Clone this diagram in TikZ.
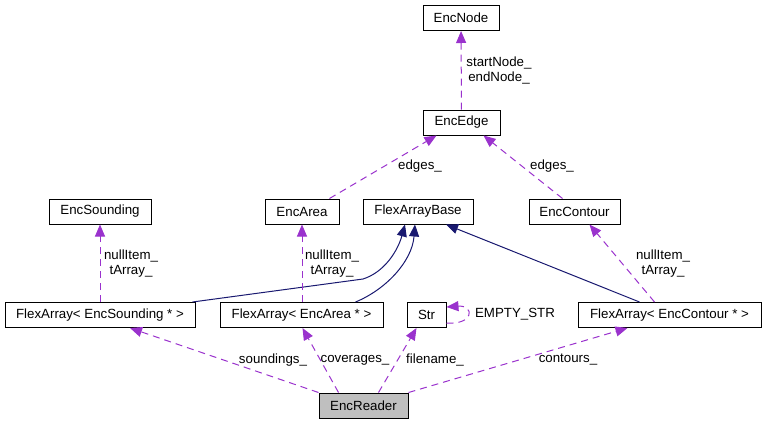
\documentclass[tikz,border=0pt]{standalone}
\usepackage{fontspec}
\setmainfont{Liberation Sans}
\usepackage{tikz}
\usetikzlibrary{arrows.meta}
\usetikzlibrary{positioning}

\definecolor{usecol}{HTML}{9A32CD}
\definecolor{inhcol}{HTML}{191970}
\definecolor{readergray}{HTML}{BFBFBF}
\newcommand{\dxfont}{\fontsize{13.3}{15}\selectfont}

\begin{document}
\begin{tikzpicture}[x=1pt, y=-1pt,
    cls/.style={draw=black, fill=white, line width=1pt, minimum height=25pt, inner xsep=0pt, inner ysep=0pt, font=\dxfont},
    uses/.style={draw=usecol, line width=1pt, dash pattern=on 7pt off 5pt, -{Triangle[length=12pt,width=10pt]}},
    inh/.style={draw=inhcol, line width=1pt, -{Triangle[length=12pt,width=10pt]}},
    lbl/.style={font=\dxfont, align=center, inner sep=0pt}]
 \useasboundingbox (0,0) rectangle (766,424);

    % draw classes
    \node[cls, minimum width=76pt] (encnode) at (461,18) {EncNode};
    \node[cls, minimum width=77pt] (encedge) at (461.5,122.5) {EncEdge};
    \node[cls, minimum width=102pt] (encsnd) at (100,211.5) {EncSounding};
    \node[cls, minimum width=74pt] (encarea) at (302,211.5) {EncArea};
    \node[cls, minimum width=110pt] (fabase) at (418,211.5) {FlexArrayBase};
    \node[cls, minimum width=91pt] (enccont) at (574.5,211.5) {EncContour};
    \node[cls, minimum width=190pt] (fasnd) at (100,315) {FlexArray< EncSounding * >};
    \node[cls, minimum width=163pt] (faarea) at (301.5,315) {FlexArray< EncArea * >};
    \node[cls, minimum width=39pt] (str) at (426.5,315) {Str};
    \node[cls, minimum width=183pt] (facont) at (669.5,315) {FlexArray< EncContour * >};
    \node[cls, fill=readergray, minimum width=89pt] (reader) at (363.5,405.5) {EncReader};

    % draw inheritance
    \draw[inh] ([xshift=-3pt]fasnd.north east) -- (363,279) .. controls (385,272) and (398,250) .. ([xshift=-13pt]fabase.south);
    \draw[inh] ([xshift=-28pt]faarea.north east) .. controls (385,290) and (412,262) .. ([xshift=-3pt]fabase.south);
    \draw[inh] ([xshift=-30pt]facont.north) -- ([xshift=28pt]fabase.south);

    % draw usage
    \draw[uses] (encedge) -- (encnode);
    \draw[uses] ([xshift=-10pt]encarea.north east) -- ([xshift=-25pt]encedge.south);
    \draw[uses] ([xshift=-12pt]enccont.north) -- ([xshift=22pt]encedge.south);
    \draw[uses] (fasnd) -- (encsnd);
    \draw[uses] (faarea.north -| encarea) -- (encarea);
    \draw[uses] ([xshift=-15pt]facont.north) -- ([xshift=15pt]enccont.south);
    \draw[uses] ([yshift=-8pt]str.east) .. controls +(28,2) and +(28,-2) .. ([yshift=8pt]str.east);
    \draw[uses] (reader.north west) -- ([xshift=30pt]fasnd.south);
    \draw[uses] ([xshift=-25pt]reader.north) -- ([xshift=1pt]faarea.south);
    \draw[uses] ([xshift=15pt]reader.north) -- ([xshift=-10pt]str.south);
    \draw[uses] (reader.north east) -- ([xshift=-42pt]facont.south);

    % labels
    \node[lbl] (l_nodes) at (499,70) {startNode\_\\endNode\_};
    \node[lbl] (l_edges1) at (420,166) {edges\_};
    \node[lbl] (l_edges2) at (552,166) {edges\_};
    \node[lbl] (l_snd) at (131,264) {nullItem\_\\tArray\_};
    \node[lbl] (l_area) at (332,264) {nullItem\_\\tArray\_};
    \node[lbl] (l_cont) at (663,264) {nullItem\_\\tArray\_};
    \node[lbl] (l_empty) at (515,314) {EMPTY\_STR};
    \node[lbl] (l_snds) at (273,360) {soundings\_};
    \node[lbl] (l_cov) at (355,360) {coverages\_};
    \node[lbl] (l_file) at (435,360) {filename\_};
    \node[lbl] (l_cont2) at (568,360) {contours\_};
\end{tikzpicture}
\end{document}
